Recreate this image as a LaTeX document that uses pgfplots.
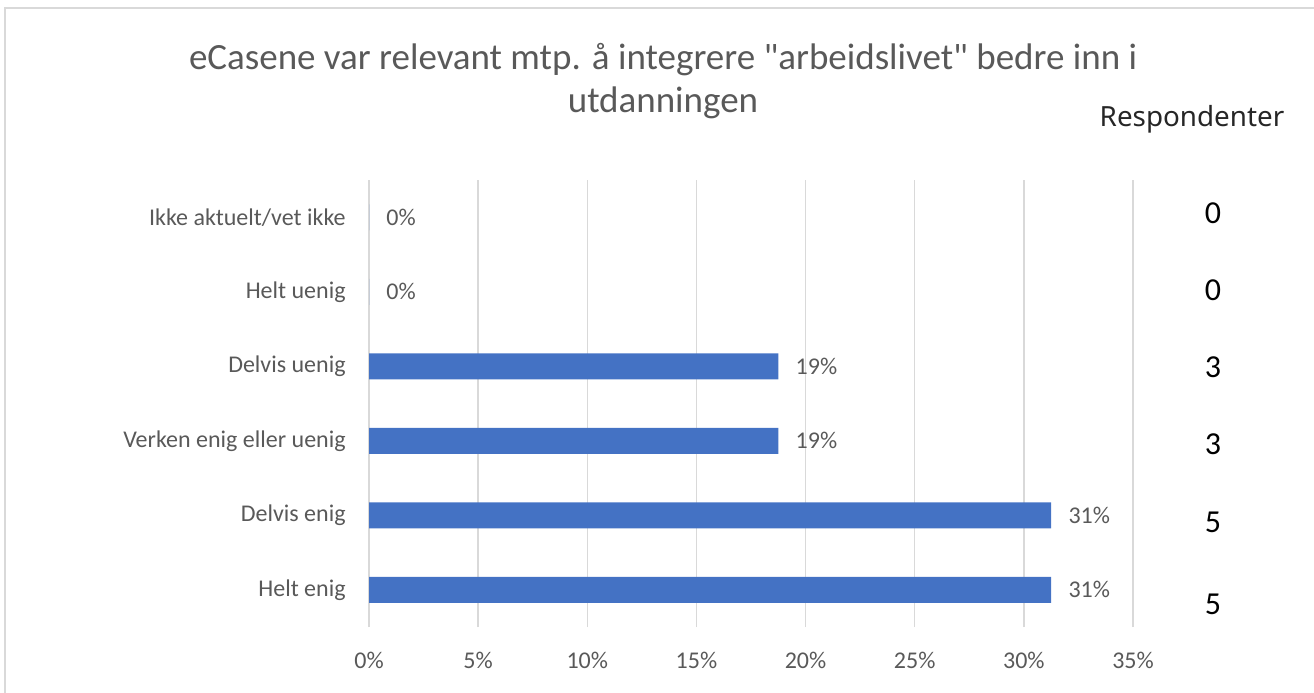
\documentclass[border=0pt]{standalone}
\usepackage{fontspec}
\setmainfont{Carlito}
\newfontfamily\titlefont{Carlito}
\newfontfamily\resfont{Noto Sans}
\usepackage{pgfplots}
\pgfplotsset{compat=1.18}
\definecolor{barblue}{HTML}{4472C4}
\definecolor{gridgray}{HTML}{D9D9D9}
\definecolor{txtgray}{HTML}{595959}
\begin{document}
\begin{tikzpicture}
\useasboundingbox (0,0) rectangle (657pt,346pt);
\draw[gridgray, line width=0.75pt] (2.5pt,-5pt) -- (2.5pt,342pt) -- (670pt,342pt);
\begin{axis}[
 at={(184.5pt,32.5pt)}, anchor=south west,
 scale only axis, width=382pt, height=223.5pt,
 xmin=0, xmax=35, ymin=0.5, ymax=6.5,
 xtick={0,5,...,35},
 xticklabel={\pgfmathprintnumber{\tick}\%},
 ytick={1,...,6},
 yticklabels={Helt enig,Delvis enig,Verken enig eller uenig,Delvis uenig,Helt uenig,Ikke aktuelt/vet ikke},
 /pgf/number format/assume math mode=true,
 xmajorgrids, grid style={gridgray, line width=0.75pt},
 axis line style={draw=none},
 major tick length=0pt,
 tick label style={txtgray, font=\fontsize{12}{14}\selectfont},
 xticklabel style={anchor=base, yshift=-20.5pt},
 yticklabel style={anchor=east, inner sep=0pt, xshift=-11.5pt},
 clip=false,
]
% share of answers (3/16 and 5/16 of 16 respondents)
\addplot[xbar, bar width=13pt, fill=barblue, draw=none,
 point meta=x,
 nodes near coords={\pgfmathprintnumber[fixed,precision=0]{\pgfplotspointmeta}\%},
 every node near coord/.append style={anchor=west, inner sep=0pt, xshift=8.5pt, txtgray, font=\fontsize{12}{14}\selectfont}]
 coordinates {(31.25,1) (31.25,2) (18.75,3) (18.75,4) (0,5) (0,6)};
% respondent counts in the right-hand column
\addplot[draw=none, mark=none, point meta=explicit symbolic,
 nodes near coords,
 every node near coord/.append style={anchor=center, inner sep=0pt, black, font=\fontsize{16}{18}\selectfont}]
 table[meta=n] {
x y n
38.66 0.81 5
38.66 1.91 5
38.66 2.96 3
38.66 3.99 3
38.66 5.02 0
38.66 6.05 0
};
\end{axis}
\node[anchor=base, txtgray, font=\titlefont\fontsize{18.5}{22}\selectfont] at (331.5pt,311pt) {eCasene var relevant mtp. å integrere "arbeidslivet" bedre inn i};
\node[anchor=base, txtgray, font=\titlefont\fontsize{18.5}{22}\selectfont] at (331.5pt,289.5pt) {utdanningen};
\node[anchor=base, black!85, font=\resfont\fontsize{13.9}{16}\selectfont] at (596pt,282.5pt) {Respondenter};
\end{tikzpicture}
\end{document}
